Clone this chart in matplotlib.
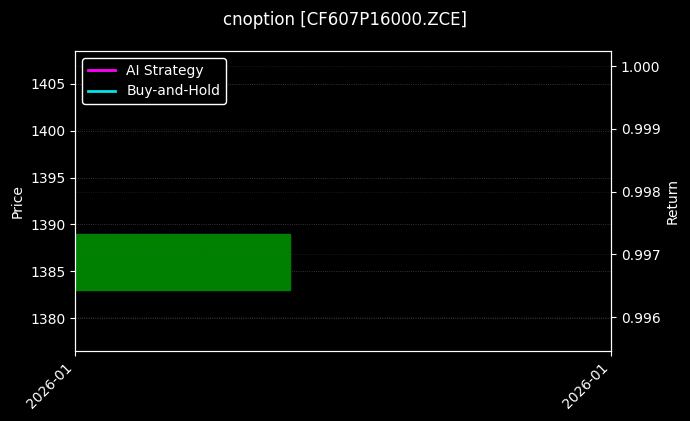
import matplotlib
matplotlib.use("Agg")
import matplotlib.pyplot as plt

plt.style.use("dark_background")

title = "cnoption [CF607P16000.ZCE]"
candle_open = [1383.0]
candle_close = [1389.0]
candle_x = [0.0]
candle_width = 0.401
x_ticks = [0.0, 1.0]
x_tick_labels = ["2026-01", "2026-01"]
price_ticks = [1380, 1385, 1390, 1395, 1400, 1405]
return_ticks = [0.996, 0.997, 0.998, 0.999, 1.000]
series_names = ["AI Strategy", "Buy-and-Hold"]
series_colors = ["#ff00ff", "#00e5e5"]

fig = plt.figure(figsize=(6.9, 4.21), dpi=100)
fig.patch.set_facecolor("black")
ax = fig.add_axes([75/690, 1 - 351/421, 536/690, 300/421])
ax.set_facecolor("black")

heights = [c - o for o, c in zip(candle_open, candle_close)]
ax.bar(candle_x, heights, bottom=candle_open, width=candle_width, align="edge",
       color="green", edgecolor="green", zorder=2)
ax.set_xlim(0, 1)
ax.set_ylim(1376.5, 1408.5)
ax.set_yticks(price_ticks)
ax.set_ylabel("Price")
ax.set_xticks(x_ticks)
ax.set_xticklabels(x_tick_labels, rotation=45, ha="right")
ax.grid(True, axis="y", color="#555555", linestyle=":", linewidth=0.6, alpha=0.8)
ax.grid(False, axis="x")

ax2 = ax.twinx()
lines = []
for name, col in zip(series_names, series_colors):
    ln, = ax2.plot([], [], color=col, linewidth=2, label=name)
    lines.append(ln)
ax2.set_ylim(0.99546, 1.00024)
ax2.set_yticks(return_ticks)
ax2.set_yticklabels([f"{v:.3f}" for v in return_ticks])
ax2.set_ylabel("Return")
ax2.grid(True, axis="y", color="#555555", linestyle=":", linewidth=0.6, alpha=0.4)

for a in (ax, ax2):
    for s in a.spines.values():
        s.set_color("white")

leg = ax2.legend(handles=lines, loc="upper left", facecolor="black", edgecolor="white",
                 framealpha=1.0)
for t in leg.get_texts():
    t.set_color("white")

fig.suptitle(title, fontsize=12, x=0.5, y=0.975)
fig.savefig("out.png", dpi=100, facecolor="black")
